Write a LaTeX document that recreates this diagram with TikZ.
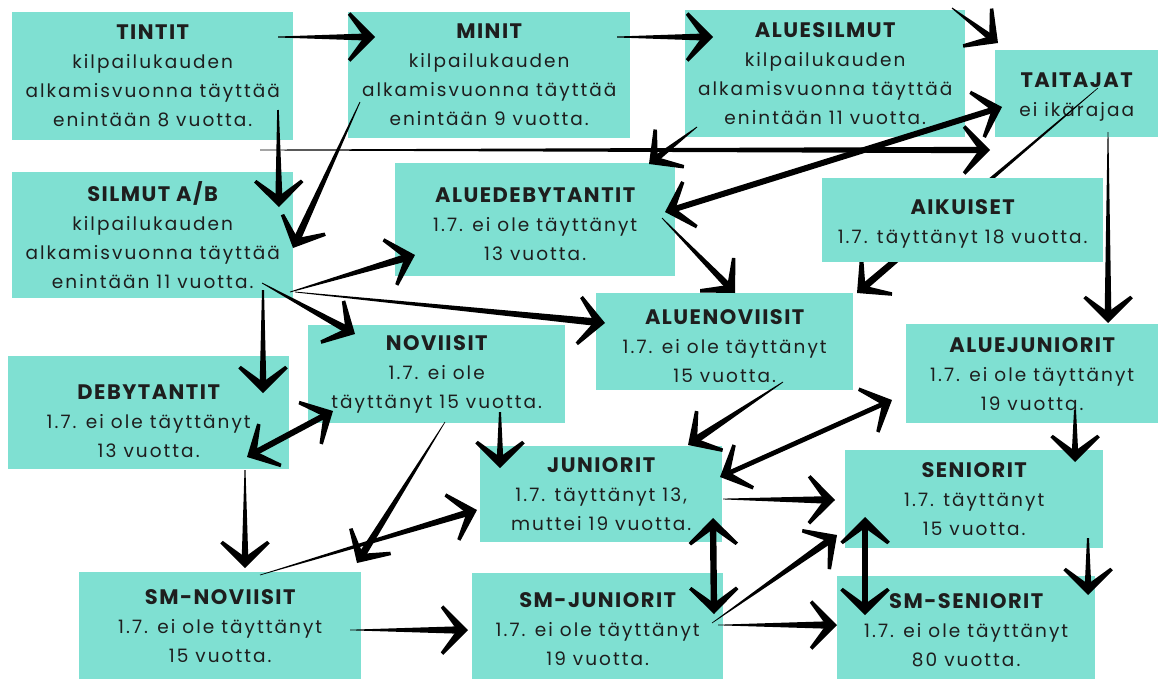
\documentclass[tikz,border=0pt]{standalone}
\usepackage{fontspec}
\setmainfont{Poppins}
\newfontfamily\bodyfont{Poppins}[LetterSpace=11]
\newfontfamily\headfont{Poppins}[LetterSpace=7]
\usetikzlibrary{calc}
\definecolor{boxc}{HTML}{7FE0D2}
\definecolor{txt}{HTML}{1E1E1E}
\newcommand\ttl[2][0pt]{{\headfont\fontsize{21}{29}\selectfont\bfseries\rule{0pt}{#1}#2}}
% tapered brush shaft
\newcommand\shaft[5]{% from, to, half width at start, half width at end, start shortening
  \fill let \p1=#1, \p2=#2, \n1={atan2(\y2-\y1,\x2-\x1)} in
    ($(\p1)+(\n1:#5pt)+(\n1+90:#3pt)$) -- ($(\p2)+(\n1+180:6pt)+(\n1+90:#4pt)$) --
    ($(\p2)+(\n1+180:6pt)+(\n1-90:#4pt)$) -- ($(\p1)+(\n1:#5pt)+(\n1-90:#3pt)$) -- cycle;
}
% open chevron head at #1, pointing away from #2
\newcommand\headfill[2]{%
  \fill let \p1=#2, \p2=#1, \n1={atan2(\y2-\y1,\x2-\x1)} in
    (\p2) -- ($(\p2)+(\n1+135:35pt)$) -- ($(\p2)+(\n1+135:35pt)+(\n1-135:3.5pt)$) --
    ($(\p2)+(\n1+180:11pt)$) -- ($(\p2)+(\n1-135:35pt)+(\n1+135:3.5pt)$) --
    ($(\p2)+(\n1-135:35pt)$) -- cycle;
}
\newcommand\brush[4]{\shaft{#1}{#2}{#3}{#4}{0}\headfill{#2}{#1}}
\newcommand\dbrush[3]{\shaft{#1}{#2}{#3}{#3}{6}\headfill{#2}{#1}\headfill{#1}{#2}}
\tikzset{
  box/.style={fill=boxc, draw=none, anchor=north west, inner sep=0pt, align=center,
    text=txt, font={\bodyfont\fontsize{18.5}{29}\selectfont}},
}
\begin{document}
\begin{tikzpicture}[x=1pt,y=-1pt]
\useasboundingbox[fill=white] (0,0) rectangle (1162,678);
% boxes
\node[box, minimum width=281, minimum height=128] (tintit) at (12,12)
  {\ttl{TINTIT}\\kilpailukauden\\alkamisvuonna täyttää\\enintään 8 vuotta.};
\node[box, minimum width=281, minimum height=126] (silmut) at (12,172)
  {\ttl{SILMUT A/B}\\kilpailukauden\\alkamisvuonna täyttää\\enintään 11 vuotta.};
\node[box, minimum width=282, minimum height=126] (minit) at (348,12)
  {\ttl{MINIT}\\kilpailukauden\\alkamisvuonna täyttää\\enintään 9 vuotta.};
\node[box, minimum width=280, minimum height=127] (aluesilmut) at (685,10)
  {\ttl{ALUESILMUT}\\kilpailukauden\\alkamisvuonna täyttää\\enintään 11 vuotta.};
\node[box, minimum width=163, minimum height=87] (taitajat) at (995,50)
  {\ttl[21pt]{TAITAJAT}\\ei ikärajaa};
\node[box, minimum width=280, minimum height=113] (aluedeb) at (395,163)
  {\ttl[23pt]{ALUEDEBYTANTIT}\\1.7. ei ole täyttänyt\\13 vuotta.};
\node[box, minimum width=257, minimum height=97] (aluenov) at (596,293)
  {\ttl[23pt]{ALUENOVIISIT}\\1.7. ei ole täyttänyt\\15 vuotta.};
\node[box, minimum width=257, minimum height=98] (noviisit) at (308,325)
  {\ttl{NOVIISIT}\\1.7. ei ole\\täyttänyt 15 vuotta.};
\node[box, minimum width=281, minimum height=113] (debyt) at (8,356)
  {\ttl[31pt]{DEBYTANTIT}\\1.7. ei ole täyttänyt\\13 vuotta.};
\node[box, minimum width=252, minimum height=99] (aluejun) at (906,324)
  {\ttl{ALUEJUNIORIT}\\1.7. ei ole täyttänyt\\19 vuotta.};
\node[box, minimum width=242, minimum height=96] (juniorit) at (480,446)
  {\ttl{JUNIORIT}\\1.7. täyttänyt 13,\\muttei 19 vuotta.};
\node[box, minimum width=258, minimum height=98] (seniorit) at (845,450)
  {\ttl{SENIORIT}\\1.7. täyttänyt\\15 vuotta.};
\node[box, minimum width=282, minimum height=107] (smnov) at (79,572)
  {\ttl{SM-NOVIISIT}\\1.7. ei ole täyttänyt\\15 vuotta.};
\node[box, minimum width=251, minimum height=112] (smjun) at (472,573)
  {\ttl{SM-JUNIORIT}\\1.7. ei ole täyttänyt\\19 vuotta.};
\node[box, minimum width=258, minimum height=108] (smsen) at (837,576)
  {\ttl{SM-SENIORIT}\\1.7. ei ole täyttänyt\\80 vuotta.};
% connector passing behind AIKUISET
\brush{($(taitajat.north west)+(103,38)$)}{($(aluenov.north west)+(261,0)$)}{0.3}{3.6}
\node[box, minimum width=281, minimum height=84] (aikuiset) at (822,178)
  {\ttl[23pt]{AIKUISET}\\1.7. täyttänyt 18 vuotta.};
% connectors
\brush{($(tintit.north west)+(266,25)$)}{($(minit.north west)+(27,25)$)}{0.5}{3.6}
\brush{($(minit.north west)+(269,25)$)}{($(aluesilmut.north west)+(28,27)$)}{0.5}{3.6}
\brush{($(aluesilmut.north west)+(267,-2)$)}{($(taitajat.north west)+(3,-7)$)}{0.5}{3.6}
\brush{($(tintit.north west)+(266,98)$)}{($(silmut.north west)+(267,35)$)}{0.8}{3.6}
\brush{($(minit.north west)+(12,90)$)}{($(silmut.north west)+(281,76)$)}{0.4}{3.8}
\brush{($(silmut.north west)+(248,-22)$)}{($(taitajat.north west)+(-5,100)$)}{0.4}{3.2}
\brush{($(aluesilmut.north west)+(12,117)$)}{($(aluedeb.north west)+(254,1)$)}{0.4}{3.4}
\dbrush{($(aluedeb.north west)+(270,49)$)}{($(taitajat.north west)+(7,57)$)}{3}
\brush{($(aluedeb.north west)+(267,55)$)}{($(aluenov.north west)+(139,0)$)}{0.4}{3.6}
\brush{($(taitajat.north west)+(113,82)$)}{($(aluejun.north west)+(202,-1)$)}{0.4}{3.4}
\brush{($(silmut.north west)+(278,120)$)}{($(aluedeb.north west)+(20,92)$)}{0.4}{3.8}
\brush{($(silmut.north west)+(283,120)$)}{($(aluenov.north west)+(9,30)$)}{0.4}{3.8}
\brush{($(silmut.north west)+(250,111)$)}{($(noviisit.north west)+(47,9)$)}{0.4}{3.8}
\brush{($(silmut.north west)+(251,118)$)}{($(debyt.north west)+(255,37)$)}{1}{3.4}
\dbrush{($(debyt.north west)+(239,101)$)}{($(noviisit.north west)+(25,86)$)}{3}
\brush{($(debyt.north west)+(237,114)$)}{($(smnov.north west)+(166,-4)$)}{0.5}{3.4}
\brush{($(noviisit.north west)+(137,97)$)}{($(smnov.north west)+(278,-9)$)}{0.3}{3.8}
\brush{($(smnov.north west)+(181,3)$)}{($(juniorit.north west)+(-3,64)$)}{0.3}{3.4}
\brush{($(noviisit.north west)+(192,87)$)}{($(juniorit.north west)+(20,22)$)}{1}{3.4}
\brush{($(aluenov.north west)+(187,89)$)}{($(juniorit.north west)+(208,-1)$)}{0.4}{3.8}
\dbrush{($(juniorit.north west)+(240,31)$)}{($(aluejun.north west)+(-14,76)$)}{2.4}
\brush{($(aluejun.north west)+(169,86)$)}{($(seniorit.north west)+(230,12)$)}{1}{3.4}
\brush{($(juniorit.north west)+(243,53)$)}{($(seniorit.north west)+(-10,50)$)}{0.4}{3.8}
\dbrush{($(juniorit.north west)+(233,72)$)}{($(smjun.north west)+(242,41)$)}{3.2}
\brush{($(smjun.north west)+(240,50)$)}{($(seniorit.north west)+(-8,85)$)}{0.3}{3.6}
\dbrush{($(seniorit.north west)+(20,67)$)}{($(smsen.north west)+(28,39)$)}{3.2}
\brush{($(seniorit.north west)+(243,88)$)}{($(smsen.north west)+(251,19)$)}{1}{3.4}
\brush{($(smnov.north west)+(271,58)$)}{($(smjun.north west)+(-4,57)$)}{0.3}{3.8}
\brush{($(smjun.north west)+(246,52)$)}{($(smsen.north west)+(0,49)$)}{0.3}{3.8}
\end{tikzpicture}
\end{document}
